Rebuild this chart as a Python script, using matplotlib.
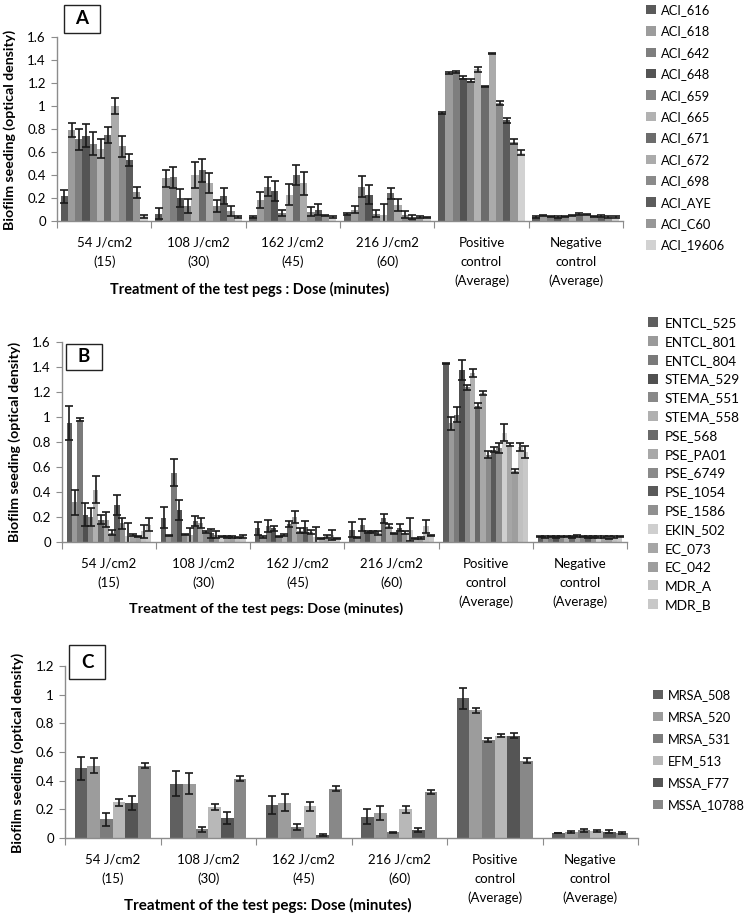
import matplotlib
matplotlib.use("Agg")
import matplotlib.pyplot as plt
from matplotlib.patches import Rectangle
from matplotlib.ticker import FuncFormatter
from matplotlib.transforms import offset_copy
import numpy as np

plt.rcParams['font.family'] = ['Lato', 'DejaVu Sans']

# ---------------- DATA ----------------
categories_A = ["54 J/cm2\n(15)", "108 J/cm2\n(30)", "162 J/cm2\n(45)", "216 J/cm2\n(60)",
                "Positive\ncontrol\n(Average)", "Negative\ncontrol\n(Average)"]
categories_B = categories_A
categories_C = categories_A

series_A = ["ACI_616", "ACI_618", "ACI_642", "ACI_648", "ACI_659", "ACI_665",
            "ACI_671", "ACI_672", "ACI_698", "ACI_AYE", "ACI_C60", "ACI_19606"]
# rows = series, columns = categories
values_A = [
    [0.215, 0.065, 0.035, 0.06, 0.94, 0.035],
    [0.79, 0.37, 0.185, 0.10, 1.287, 0.045],
    [0.71, 0.38, 0.30, 0.30, 1.296, 0.04],
    [0.74, 0.20, 0.26, 0.23, 1.246, 0.035],
    [0.67, 0.13, 0.07, 0.065, 1.22, 0.04],
    [0.63, 0.40, 0.23, 0.05, 1.32, 0.05],
    [0.745, 0.44, 0.40, 0.24, 1.17, 0.06],
    [1.00, 0.33, 0.33, 0.14, 1.455, 0.055],
    [0.65, 0.13, 0.08, 0.055, 1.026, 0.04],
    [0.53, 0.22, 0.10, 0.035, 0.875, 0.045],
    [0.25, 0.087, 0.045, 0.035, 0.69, 0.035],
    [0.04, 0.035, 0.035, 0.03, 0.595, 0.035],
]
errors_A = [
    [0.055, 0.045, 0.005, 0.01, 0.01, 0.005],
    [0.06, 0.07, 0.07, 0.03, 0.005, 0.005],
    [0.09, 0.09, 0.08, 0.09, 0.005, 0.005],
    [0.10, 0.08, 0.09, 0.08, 0.015, 0.005],
    [0.10, 0.06, 0.03, 0.03, 0.015, 0.005],
    [0.08, 0.11, 0.09, 0.10, 0.02, 0.005],
    [0.07, 0.10, 0.09, 0.05, 0.005, 0.01],
    [0.07, 0.09, 0.10, 0.05, 0.005, 0.005],
    [0.09, 0.05, 0.04, 0.03, 0.015, 0.005],
    [0.05, 0.07, 0.05, 0.02, 0.025, 0.01],
    [0.05, 0.04, 0.005, 0.005, 0.02, 0.005],
    [0.015, 0.005, 0.005, 0.005, 0.02, 0.005],
]

series_B = ["ENTCL_525", "ENTCL_801", "ENTCL_804", "STEMA_529", "STEMA_551", "STEMA_558",
            "PSE_568", "PSE_PA01", "PSE_6749", "PSE_1054", "PSE_1586", "EKIN_502",
            "EC_073", "EC_042", "MDR_A", "MDR_B"]
values_B = [
    [0.95, 0.195, 0.11, 0.10, 1.43, 0.045],
    [0.32, 0.05, 0.04, 0.037, 0.95, 0.04],
    [0.98, 0.555, 0.13, 0.135, 1.02, 0.045],
    [0.22, 0.26, 0.11, 0.08, 1.38, 0.04],
    [0.20, 0.06, 0.045, 0.08, 1.24, 0.045],
    [0.42, 0.055, 0.055, 0.075, 1.35, 0.045],
    [0.18, 0.17, 0.145, 0.19, 1.09, 0.04],
    [0.18, 0.155, 0.20, 0.13, 1.19, 0.05],
    [0.075, 0.08, 0.09, 0.07, 0.70, 0.045],
    [0.30, 0.07, 0.12, 0.115, 0.74, 0.04],
    [0.15, 0.06, 0.08, 0.075, 0.75, 0.04],
    [0.05, 0.045, 0.04, 0.10, 0.875, 0.04],
    [0.055, 0.04, 0.03, 0.027, 0.78, 0.04],
    [0.045, 0.04, 0.045, 0.032, 0.57, 0.035],
    [0.085, 0.035, 0.06, 0.125, 0.76, 0.04],
    [0.14, 0.045, 0.03, 0.055, 0.72, 0.045],
]
errors_B = [
    [0.135, 0.085, 0.05, 0.06, 0.005, 0.005],
    [0.10, 0.005, 0.005, 0.005, 0.05, 0.005],
    [0.01, 0.11, 0.05, 0.05, 0.06, 0.005],
    [0.09, 0.08, 0.02, 0.01, 0.08, 0.005],
    [0.07, 0.005, 0.005, 0.01, 0.02, 0.005],
    [0.11, 0.06, 0.01, 0.015, 0.03, 0.005],
    [0.035, 0.04, 0.025, 0.035, 0.02, 0.005],
    [0.06, 0.04, 0.05, 0.015, 0.015, 0.01],
    [0.02, 0.005, 0.02, 0.005, 0.03, 0.005],
    [0.08, 0.035, 0.045, 0.03, 0.02, 0.005],
    [0.045, 0.025, 0.015, 0.01, 0.04, 0.005],
    [0.10, 0.005, 0.08, 0.09, 0.07, 0.005],
    [0.007, 0.005, 0.005, 0.005, 0.01, 0.005],
    [0.005, 0.005, 0.015, 0.005, 0.015, 0.01],
    [0.05, 0.005, 0.04, 0.05, 0.03, 0.005],
    [0.055, 0.01, 0.005, 0.005, 0.05, 0.005],
]

series_C = ["MRSA_508", "MRSA_520", "MRSA_531", "EFM_513", "MSSA_F77", "MSSA_10788"]
values_C = [
    [0.487, 0.38, 0.23, 0.15, 0.975, 0.035],
    [0.505, 0.38, 0.245, 0.175, 0.89, 0.042],
    [0.13, 0.06, 0.075, 0.04, 0.685, 0.053],
    [0.25, 0.215, 0.22, 0.20, 0.715, 0.05],
    [0.245, 0.14, 0.022, 0.055, 0.715, 0.045],
    [0.505, 0.415, 0.345, 0.32, 0.54, 0.035],
]
errors_C = [
    [0.08, 0.09, 0.065, 0.05, 0.075, 0.003],
    [0.05, 0.075, 0.06, 0.05, 0.015, 0.004],
    [0.045, 0.02, 0.02, 0.005, 0.015, 0.012],
    [0.025, 0.02, 0.03, 0.025, 0.012, 0.008],
    [0.05, 0.04, 0.008, 0.015, 0.02, 0.01],
    [0.02, 0.015, 0.015, 0.012, 0.02, 0.008],
]

colors_A = ["#5a5a5a", "#9c9c9c", "#7e7e7e", "#545454", "#858585", "#b2b2b2",
            "#6c6c6c", "#ababab", "#8a8a8a", "#5c5c5c", "#979797", "#d2d2d2"]
colors_B = ["#5e5e5e", "#9a9a9a", "#7a7a7a", "#505050", "#888888", "#b0b0b0",
            "#6a6a6a", "#a8a8a8", "#8a8a8a", "#5a5a5a", "#909090", "#cfcfcf",
            "#a6a6a6", "#9e9e9e", "#c0c0c0", "#c8c8c8"]
colors_C = ["#606060", "#9c9c9c", "#7c7c7c", "#b8b8b8", "#555555", "#888888"]

W, H = 750, 914
DPI = 100
fig = plt.figure(figsize=(W / DPI, H / DPI), dpi=DPI)
renderer = fig.canvas.get_renderer()


def fx(x):
    return x / W


def fy(y):
    return 1 - y / H


def px2pt(p):
    return p * 72.0 / DPI


def text_width(s, size, weight='normal'):
    t = fig.text(0, 0, s, fontsize=size, fontweight=weight)
    w = t.get_window_extent(renderer).width
    t.remove()
    return w


def fit_size(s, target_px, weight='normal', base=10.0):
    return base * target_px / text_width(s, base, weight)


AXC = "#8c8c8c"
CAT_FS = fit_size("108 J/cm2", 63)
TICK_FS = CAT_FS
YL_FS = fit_size("Biofilm seeding (optical density)", 200, 'bold')


def add_legend(handles, labels, x_px, first_y_px, spacing_px, fs):
    fs_px = fs * DPI / 72.0
    kw = dict(loc='upper left', frameon=False, fontsize=fs, borderpad=0, borderaxespad=0,
              handlelength=0.75, handleheight=0.75, handletextpad=0.45)
    ls = 0.5
    anchor_y = first_y_px - 8
    leg = fig.legend(handles, labels, bbox_to_anchor=(fx(x_px), fy(anchor_y)),
                     labelspacing=ls, **kw)
    fig.canvas.draw()
    e0 = leg.get_texts()[0].get_window_extent(renderer)
    e1 = leg.get_texts()[1].get_window_extent(renderer)
    s = ((e0.y0 + e0.y1) - (e1.y0 + e1.y1)) / 2
    ls = ls + (spacing_px - s) / fs_px
    leg.remove()
    leg = fig.legend(handles, labels, bbox_to_anchor=(fx(x_px), fy(anchor_y)),
                     labelspacing=ls, **kw)
    fig.canvas.draw()
    e0 = leg.get_texts()[0].get_window_extent(renderer)
    cy = H - (e0.y0 + e0.y1) / 2  # from top
    anchor_y += first_y_px - cy
    leg.remove()
    leg = fig.legend(handles, labels, bbox_to_anchor=(fx(x_px), fy(anchor_y)),
                     labelspacing=ls, **kw)
    return leg


def panel(rect_px, cats, series, vals, errs, cols, ymax, frac, letter, box_px,
          xlabel, xlabel_px, xlabel_w, ylabel_px, leg_x, leg_y, leg_spacing, leg_fit):
    l, t, r, b = rect_px
    ax = fig.add_axes([fx(l), fy(b), (r - l) / W, (b - t) / H])
    n = len(series)
    w = frac / n
    x = np.arange(len(cats))
    handles = []
    for i in range(n):
        pos = x - frac / 2 + w * (i + 0.5)
        h = ax.bar(pos, vals[i], width=w, color=cols[i], edgecolor='none', zorder=2,
                   label=series[i])
        ax.errorbar(pos, vals[i], yerr=errs[i], fmt='none', ecolor='#1a1a1a',
                    elinewidth=1.2, capsize=2.6, capthick=1.2, zorder=3)
        handles.append(h)
    ax.set_xlim(-0.5, len(cats) - 0.5)
    ax.set_ylim(0, ymax)
    ax.set_yticks(np.arange(0, ymax + 1e-6, 0.2))
    ax.yaxis.set_major_formatter(FuncFormatter(lambda v, p: "%g" % round(v, 1)))
    ax.set_xticks(np.arange(-0.5, len(cats), 1.0))
    ax.set_xticklabels([])
    ax.tick_params(axis='x', which='major', length=5, color=AXC, direction='out')
    ax.tick_params(axis='y', length=4, color=AXC, direction='out', labelsize=TICK_FS, pad=4)
    for s in ['top', 'right']:
        ax.spines[s].set_visible(False)
    for s in ['left', 'bottom']:
        ax.spines[s].set_color(AXC)
        ax.spines[s].set_linewidth(1.0)
    ax.spines['bottom'].set_zorder(4)
    # category labels (one text per line, Excel-like spacing)
    cap = 0.72 * CAT_FS * DPI / 72.0
    for xi, cat in zip(x, cats):
        for k, line in enumerate(cat.split("\n")):
            off = 21 + 19.3 * k + cap / 2
            tr = offset_copy(ax.get_xaxis_transform(), fig=fig, x=0, y=-px2pt(off),
                             units='points')
            ax.text(xi, 0, line, transform=tr, ha='center', va='baseline',
                    fontsize=CAT_FS, clip_on=False)
    # letter box
    bx0, by0, bx1, by1 = box_px
    fig.add_artist(Rectangle((fx(bx0), fy(by1)), (bx1 - bx0) / W, (by1 - by0) / H,
                             transform=fig.transFigure, facecolor='white',
                             edgecolor='#222222', linewidth=1.0, zorder=5))
    fig.text(fx((bx0 + bx1) / 2), fy((by0 + by1) / 2), letter, ha='center', va='center',
             fontsize=13.5, fontweight='bold', zorder=6)
    xs = fit_size(xlabel, xlabel_w, 'bold')
    fig.text(fx(xlabel_px[0]), fy(xlabel_px[1]), xlabel, ha='center', va='center',
             fontsize=xs, fontweight='bold')
    fig.text(fx(ylabel_px[0]), fy(ylabel_px[1]), "Biofilm seeding (optical density)",
             rotation=90, ha='center', va='center', fontsize=YL_FS, fontweight='bold')
    lf = fit_size(leg_fit[0], leg_fit[1])
    add_legend(handles, series, leg_x, leg_y, leg_spacing, lf)
    return ax


panel((57, 37, 623, 221), categories_A, series_A, values_A, errors_A, colors_A, 1.6, 0.92,
      "A", (64, 5, 100, 33), "Treatment of the test pegs : Dose (minutes)", (250, 289), 280,
      (10, 130), 646, 10, 21.4, ("ACI_19606", 64))
panel((62, 342, 627, 542), categories_B, series_B, values_B, errors_B, colors_B, 1.6, 0.9,
      "B", (66, 344, 102, 370), "Treatment of the test pegs: Dose (minutes)", (266, 609), 275,
      (15, 442), 648, 323, 18.8, ("PSE_1054", 61))
panel((65, 666, 638, 838), categories_C, series_C, values_C, errors_C, colors_C, 1.2, 0.8,
      "C", (69, 645, 105, 679), "Treatment of the test pegs: Dose (minutes)", (268, 905), 289,
      (18, 753), 653, 695, 22.0, ("MSSA_10788", 77))

fig.savefig("out.png", dpi=DPI)
